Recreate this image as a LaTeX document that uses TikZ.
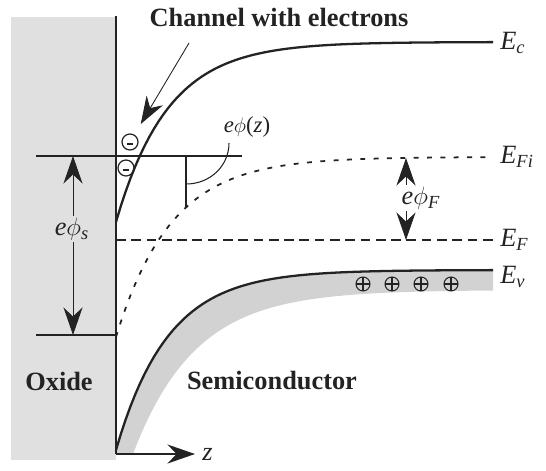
\documentclass[tikz,border=0pt]{standalone}
\usepackage{fontspec}
\setmainfont{Liberation Serif}
\usetikzlibrary{positioning,arrows.meta,calc}
\definecolor{ink}{RGB}{35,35,35}
\definecolor{oxidegray}{RGB}{224,224,224}
\definecolor{bandgray}{RGB}{210,210,210}
\newcommand{\lv}[2]{\textit{#1}\textsubscript{\textit{#2}}}

\begin{document}
\begin{tikzpicture}[x=0.02cm,y=-0.02cm,
  lvl/.style={ink,line width=1.3pt},
  thinln/.style={ink,line width=0.6pt},
  arr/.style={-{Stealth[length=0.55cm,width=0.38cm,inset=0.18cm]},ink,line width=0.5pt},
  lbl/.style={text=ink,font=\fontsize{15}{17}\selectfont,inner sep=1pt},
  tag/.style={text=ink,font=\fontsize{15}{18}\selectfont\bfseries},
  elec/.style={circle,draw=ink,line width=0.7pt,minimum size=0.32cm,inner sep=0pt,
    path picture={\draw[ink,line width=1.1pt] ([xshift=-1.8pt,yshift=-1.2pt]path picture bounding box.center) -- ++(3.6pt,0);}},
  hole/.style={circle,draw=ink,line width=0.6pt,minimum size=0.28cm,inner sep=0pt,
    path picture={\draw[ink,line width=0.6pt] (path picture bounding box.north) -- (path picture bounding box.south)
      (path picture bounding box.west) -- (path picture bounding box.east);}}
]
\useasboundingbox (0,0) rectangle (546,470);
\fill[oxidegray] (11,17) rectangle (116,460);

\coordinate (O) at (116,454);
\coordinate (wallTop) at (116,16);
\coordinate (zend) at (195,454);
\coordinate (hA) at (36,156);
\coordinate (hB) at (242,156);
\coordinate (sTop) at (73,156);
\coordinate (sBot) at (73,335);
\coordinate (cEnd) at (493,43);
\coordinate (fiEnd) at (493,157);
\coordinate (fStart) at (116,240);
\coordinate (fEnd) at (493,240);
\coordinate (vEnd) at (493,270);
\coordinate (fiTop) at (406,158);
\coordinate (fBot) at (406,240);
\coordinate (mTop) at (186,156);
\coordinate (mBot) at (186,207);
\coordinate (chTail) at (189,43);

\fill[bandgray] plot[domain=116:493,samples=80] (\x,{270+180*exp(-(\x-116)/52)})
  -- (493,290) -- plot[domain=493:133,samples=80] (\x,{290+164*exp(-(\x-133)/62)})
  -- (O) -- cycle;

\draw[lvl] plot[domain=116:493,samples=80] (\x,{42+180*exp(-(\x-116)/52)});
\draw[ink,line width=1pt,dash pattern=on 2.8pt off 4.8pt] plot[domain=116:493,samples=80] (\x,{157+180*exp(-(\x-116)/55)});
\draw[ink,line width=1.1pt,dash pattern=on 5.5pt off 3.2pt] (fStart) -- (fEnd);
\draw[lvl] plot[domain=116:493,samples=80] (\x,{270+180*exp(-(\x-116)/52)});

\draw[thinln] (wallTop) -- (O);
\draw[arr,line width=0.9pt] (O) -- (zend);
\node[lbl,right=3pt of zend] (z) {\textit{z}};
\draw[thinln] (hA) -- (hB);
\draw[thinln] (36,335) -- (O |- sBot);

\node[lbl,right=3pt of cEnd] (Ec) {\lv{E}{c}};
\node[lbl,right=3pt of fiEnd] (EFi) {\lv{E}{Fi}};
\node[lbl,right=3pt of fEnd] (EF) {\lv{E}{F}};
\node[lbl,right=3pt of vEnd,yshift=-4pt] (Ev) {\lv{E}{v}};

\node[lbl] (phis) at (72,229) {\textit{e}$\phi$\textsubscript{\textit{s}}};
\draw[arr] (phis.north -| sTop) -- (sTop);
\draw[arr] (phis.south -| sBot) -- (sBot);

\node[lbl] (phiF) at (421,198) {\textit{e}$\phi$\textsubscript{\textit{F}}};
\draw[arr] (phiF.north -| fiTop) -- (fiTop);
\draw[arr] (phiF.south -| fBot) -- (fBot);

\node[lbl,font=\fontsize{13}{15}\selectfont] (phiz) at (247,127) {\textit{e}$\phi$(\textit{z})};
\draw[thinln] (mTop) -- (mBot);
\draw[thinln] (186,184) .. controls (210,184) and (229,166) .. (229,143);

\node[elec] (e1) at (130,142) {};
\node[elec] (e2) at (126,168) {};
\node[tag] (chan) at (279,17) {Channel with electrons};
\draw[arr,shorten >=7pt] (chTail) -- (e1);

\foreach \x [count=\i] in {363,392,421,451}
  \node[hole] (h\i) at (\x,284) {};

\node[tag] (oxide) at (59,381) {Oxide};
\node[tag] (semi) at (272,381) {Semiconductor};
\end{tikzpicture}
\end{document}
